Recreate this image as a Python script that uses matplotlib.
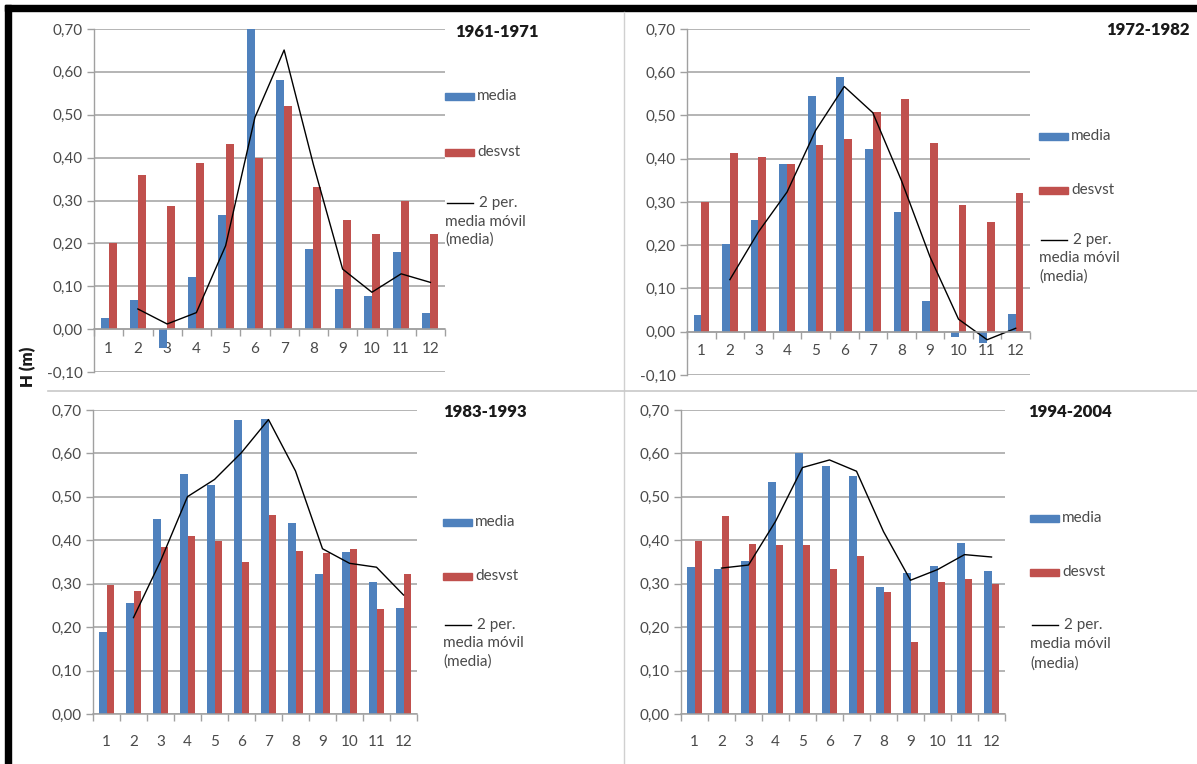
import numpy as np
import pandas as pd
import matplotlib
matplotlib.use("Agg")
import matplotlib.pyplot as plt
from matplotlib.patches import Rectangle
from matplotlib.lines import Line2D
from matplotlib.ticker import FixedLocator, FuncFormatter

plt.rcParams["font.family"] = ["Lato", "DejaVu Sans"]

W, H = 1197, 764

# --- data -------------------------------------------------------------
meses = list(range(1, 13))
periodos = ["1961-1971", "1972-1982", "1983-1993", "1994-2004"]

media_1961 = [0.025, 0.069, -0.045, 0.122, 0.267, 0.72, 0.582, 0.186, 0.094, 0.078, 0.180, 0.038]
desvst_1961 = [0.201, 0.359, 0.288, 0.388, 0.432, 0.399, 0.520, 0.332, 0.254, 0.223, 0.300, 0.223]

media_1972 = [0.038, 0.203, 0.259, 0.387, 0.544, 0.590, 0.423, 0.277, 0.070, -0.012, -0.025, 0.041]
desvst_1972 = [0.300, 0.414, 0.405, 0.387, 0.432, 0.445, 0.508, 0.539, 0.436, 0.293, 0.254, 0.321]

media_1983 = [0.189, 0.255, 0.449, 0.552, 0.528, 0.676, 0.680, 0.439, 0.322, 0.372, 0.304, 0.244]
desvst_1983 = [0.296, 0.283, 0.384, 0.409, 0.398, 0.350, 0.458, 0.375, 0.370, 0.380, 0.241, 0.323]

media_1994 = [0.338, 0.334, 0.352, 0.535, 0.600, 0.570, 0.548, 0.292, 0.324, 0.341, 0.393, 0.330]
desvst_1994 = [0.399, 0.455, 0.391, 0.388, 0.388, 0.335, 0.363, 0.281, 0.165, 0.305, 0.311, 0.300]

medias = [media_1961, media_1972, media_1983, media_1994]
desvsts = [desvst_1961, desvst_1972, desvst_1983, desvst_1994]

yticks_neg = [-0.10, 0.00, 0.10, 0.20, 0.30, 0.40, 0.50, 0.60, 0.70]
yticks_pos = [0.00, 0.10, 0.20, 0.30, 0.40, 0.50, 0.60, 0.70]

# --- style ------------------------------------------------------------
BLUE = "#4F81BD"
RED = "#C0504D"
GRID = "#a0a0a0"
TXT = "#4a4a4a"

# panel geometry in pixels: left, right, top(0.70), bottom(ymin)
boxes = [
    (94, 445, 29, 372),
    (687, 1030, 29, 375),
    (93, 417, 410, 714),
    (681, 1005, 410, 714),
]
ylims = [(-0.10, 0.70), (-0.10, 0.70), (0.0, 0.70), (0.0, 0.70)]
yticks = [yticks_neg, yticks_neg, yticks_pos, yticks_pos]
xlabel_pad = [9, 9, 15, 15]
title_pos = [(455, 32), (1106, 30), (443, 412), (1028, 412)]
# legend anchor: x0, y media, y desvst, y line, y line2, y line3
legend_pos = [
    (445, 96, 152, 203, 222, 240),
    (1039, 136, 190, 240, 258, 277),
    (443, 522, 576, 625, 643, 662),
    (1030, 518, 572, 625, 644, 664),
]


def fx(x):
    return x / W


def fy(y):
    return 1 - y / H


fig = plt.figure(figsize=(W / 100, H / 100), dpi=100)
fig.patch.set_facecolor("white")

comma_fmt = FuncFormatter(lambda v, p: f"{v:.2f}".replace(".", ","))
x = np.array(meses, dtype=float)
bw = 0.27

for i in range(4):
    l, r, t, b = boxes[i]
    ax = fig.add_axes([fx(l), fy(b), (r - l) / W, (b - t) / H])
    ax.set_facecolor("none")
    ymin, ymax = ylims[i]

    ax.bar(x - bw / 2, medias[i], bw, color=BLUE, zorder=3)
    ax.bar(x + bw / 2, desvsts[i], bw, color=RED, zorder=3)

    # two-period moving average of the monthly mean
    ma = pd.Series(medias[i], index=meses).rolling(2).mean()
    ax.plot(ma.index[1:], ma.values[1:], color="black", lw=1.0, zorder=4)

    ax.set_xlim(0.5, 12.5)
    ax.set_ylim(ymin, ymax)

    ax.set_yticks(yticks[i])
    ax.yaxis.set_major_formatter(comma_fmt)
    ax.yaxis.grid(True, color=GRID, lw=1.1, zorder=0)
    ax.set_axisbelow(True)
    ax.tick_params(axis="y", direction="out", length=5, width=1.0,
                   color=GRID, labelsize=11, labelcolor=TXT, pad=3)

    for s in ("top", "right"):
        ax.spines[s].set_visible(False)
    ax.spines["left"].set_color(GRID)
    ax.spines["left"].set_linewidth(1.0)
    ax.spines["bottom"].set_color(GRID)
    ax.spines["bottom"].set_linewidth(1.1)
    ax.spines["bottom"].set_position(("data", 0.0))
    ax.spines["bottom"].set_zorder(5)

    ax.set_xticks(meses)
    ax.set_xticklabels([str(m) for m in meses])
    ax.xaxis.set_minor_locator(FixedLocator(np.arange(0.5, 13.0, 1.0)))
    ax.tick_params(axis="x", which="major", length=0, labelsize=11,
                   labelcolor=TXT, pad=xlabel_pad[i])
    ax.tick_params(axis="x", which="minor", direction="out", length=5,
                   width=1.0, color=GRID)

    # period title
    tx, ty = title_pos[i]
    fig.text(fx(tx), fy(ty), periodos[i], fontsize=12, fontweight="heavy",
             color="#1a1a1a", ha="left", va="center")

    # legend
    x0, ym, yd, yl, yl2, yl3 = legend_pos[i]
    for yy, col, lab in ((ym, BLUE, "media"), (yd, RED, "desvst")):
        fig.add_artist(Rectangle((fx(x0), fy(yy + 3.5)), 29 / W, 7 / H,
                                 transform=fig.transFigure, color=col))
        fig.text(fx(x0 + 32), fy(yy), lab, fontsize=11, color=TXT,
                 ha="left", va="center")
    fig.add_artist(Line2D([fx(x0 + 2), fx(x0 + 28)], [fy(yl), fy(yl)],
                          transform=fig.transFigure, color="black", lw=1.0))
    fig.text(fx(x0 + 34), fy(yl), "2 per.", fontsize=11, color=TXT,
             ha="left", va="center")
    fig.text(fx(x0), fy(yl2), "media móvil", fontsize=11, color=TXT,
             ha="left", va="center")
    fig.text(fx(x0), fy(yl3), "(media)", fontsize=11, color=TXT,
             ha="left", va="center")

# shared y label
fig.text(fx(28), fy(367), "H (m)", rotation=90, fontsize=12,
         fontweight="heavy", color="#1a1a1a", ha="center", va="center")

# panel separators
fig.add_artist(Line2D([fx(624), fx(624)], [fy(12), 0], transform=fig.transFigure,
                      color="#d0d0d0", lw=1.0))
fig.add_artist(Line2D([fx(48), 1], [fy(391), fy(391)], transform=fig.transFigure,
                      color="#c8c8c8", lw=1.2))

# frame on top and left edges
fig.add_artist(Rectangle((fx(5), fy(11)), 1 - fx(5), 6 / H,
                         transform=fig.transFigure, color="black"))
fig.add_artist(Rectangle((fx(5), 0), 6 / W, fy(5),
                         transform=fig.transFigure, color="black"))

fig.savefig("out.png", dpi=100, facecolor="white")
